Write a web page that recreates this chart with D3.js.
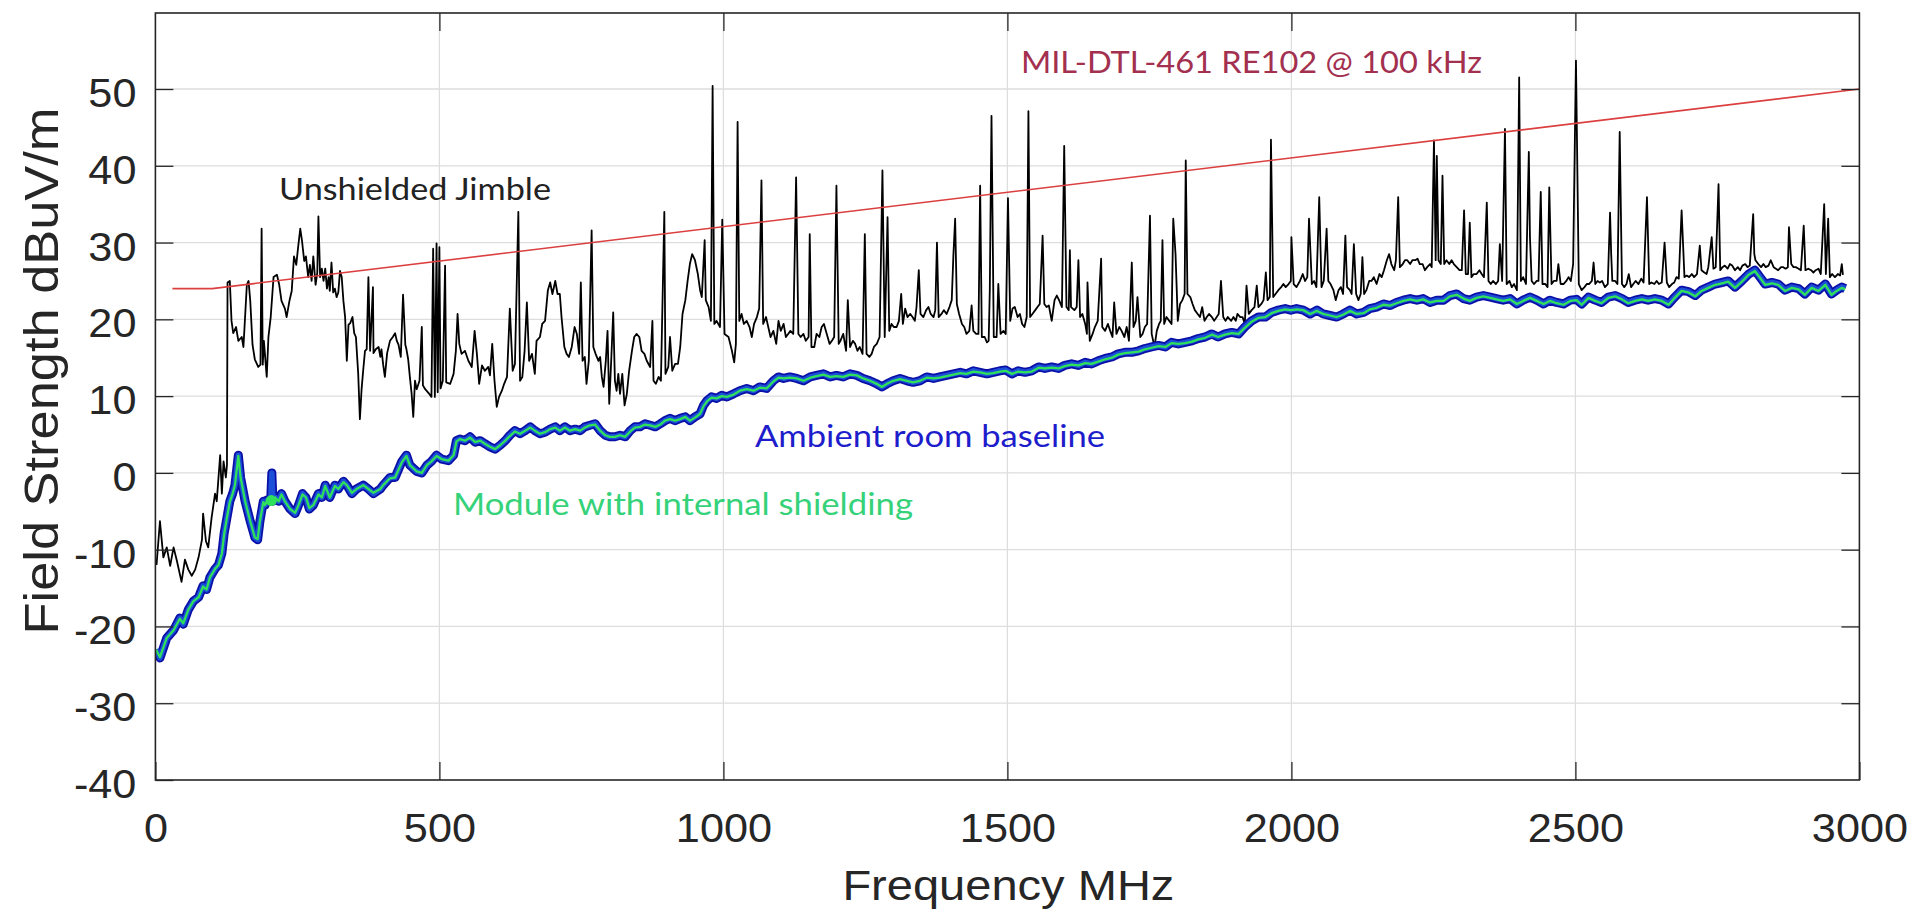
<!DOCTYPE html>
<html><head><meta charset="utf-8">
<script src="https://cdn.jsdelivr.net/npm/d3@7"></script>
<style>body{margin:0;background:#fff;} svg{display:block}</style>
</head><body>
<svg id="chart" width="1912" height="912"></svg>
<script>
// ---------------- data ----------------
const xTicks = [0, 500, 1000, 1500, 2000, 2500, 3000];
const yTicks = [-40, -30, -20, -10, 0, 10, 20, 30, 40, 50];
const xTitle = "Frequency MHz";
const yTitle = "Field Strength dBuV/m";

// MIL-DTL-461 RE102 limit [MHz, dBuV/m]
const limitLine = [[30,24],[100,24],[3000,50]];

// Unshielded Jimble [MHz, dBuV/m]
const unshielded = [
[2,-12],[8,-6.3],[14,-11],[20,-9.7],[26,-12.1],[32,-9.7],[38,-11.5],[46,-14.2],[52,-11.3],[58,-12.6],[64,-13.4],[70,-12.6],[76,-11],[82,-8.7],[84,-5.3],[89,-8.9],[93,-9.7],[99,-5.8],[105,-2.7],[108,-3.7],[114,2.3],[117,-2.7],[120,1.5],[124,-0.6],[126,1],[127,24.8],[131,25],[134,19.8],[137,18.2],[142,19],[146,17.2],[152,17.7],[155,16.4],[161,24.5],[164,25],[167,22.4],[171,16.7],[175,14.8],[181,13.8],[185,14.1],[187,31.8],[189,14.1],[191,17.2],[196,12.5],[199,17.7],[203,20.3],[208,25.5],[214,25.8],[218,24.5],[222,22.4],[228,21.4],[231,20.3],[236,22.4],[240,23.7],[244,28.2],[248,27.1],[251,29.2],[255,31.8],[258,30.3],[262,27.6],[265,28.2],[269,25.5],[272,27.1],[275,25],[278,28.2],[282,24.5],[285,26.1],[287,33.4],[290,25.5],[293,26.6],[296,25],[299,26.6],[302,24],[305,25.5],[307,23.7],[310,27.4],[313,23.5],[316,24],[319,22.9],[322,23.5],[325,26.3],[328,25.5],[331,22.4],[334,20.3],[337,14.6],[340,19.3],[343,19.5],[347,20.3],[350,18.2],[353,17.7],[357,13],[360,7],[363,10.9],[366,13.5],[369,15.9],[372,16.1],[375,25.5],[378,15.9],[383,24.2],[384,15.6],[388,16.1],[393,16.4],[396,15.1],[398,16.1],[401,14.1],[404,12.5],[408,15.6],[413,17.2],[418,17.7],[422,18.2],[425,17.2],[428,16.7],[432,15.1],[436,23.2],[440,16.7],[442,16.1],[445,14.8],[448,12.5],[451,10.4],[454,7.3],[457,12],[460,10.9],[465,12],[469,19],[471,11.4],[475,10.9],[481,10.4],[486,9.9],[489,29.2],[492,9.9],[495,29.9],[497,10.5],[500,29.4],[502,11],[506,12],[510,27],[512,11.8],[519,11.6],[525,12.9],[529,15.9],[532,20.7],[535,16.8],[539,15.5],[545,15.9],[551,14.6],[557,13.8],[562,18.5],[566,15.5],[570,11.6],[575,14],[580,13.3],[586,13.8],[589,12.7],[593,16.8],[597,12],[601,8.6],[605,9.9],[610,10.7],[614,11.6],[619,12.5],[624,21.4],[629,13.3],[633,14.2],[639,34],[642,12],[646,12.5],[650,15.9],[654,22.2],[658,14.6],[663,15.5],[668,12.9],[671,17.2],[677,17.7],[681,19.4],[686,19.8],[691,23.8],[695,24.8],[699,23.3],[704,25],[708,23.3],[712,23.3],[715,20.3],[720,16.4],[724,15.5],[728,15.1],[733,16.4],[738,19],[742,18.1],[746,15.5],[749,24.8],[752,14.6],[756,15.1],[759,11.6],[763,14.6],[768,31.6],[771,16.4],[775,15.5],[780,14.6],[783,15.1],[786,12.5],[789,11.2],[793,14.6],[796,18.5],[799,9],[802,13.8],[806,20.9],[809,12],[812,10.7],[815,12.9],[818,10.3],[822,12.9],[826,8.8],[830,10.3],[834,13.3],[839,15.9],[843,17.7],[847,18.1],[852,17.7],[856,15.9],[861,15.5],[865,14.6],[871,13.8],[875,19.8],[877,12],[881,11.6],[886,12.5],[890,12],[896,34],[898,12.9],[903,13.8],[906,17.7],[910,13.3],[915,14.2],[920,14.2],[924,16.4],[928,20.7],[933,22.5],[937,25],[941,27.2],[945,28.5],[950,27.7],[955,25.9],[959,23.8],[962,22.9],[967,30.3],[969,22.5],[974,21.6],[978,19.8],[981,50.4],[984,19.4],[988,19.8],[994,19],[998,33],[1002,18.1],
[1009,17.7],[1015,15.9],[1019,14.4],[1022,16.8],[1025,45.7],[1028,19.8],[1032,20.7],[1036,19.4],[1041,19.8],[1046,19],[1050,17.7],[1054,19.4],[1059,20.3],[1063,21.4],[1067,38.1],[1070,19.4],[1075,20.3],[1079,19],[1083,17.7],[1088,18.5],[1093,16.8],[1097,19.8],[1101,18.5],[1106,19.4],[1110,17.7],[1114,18.1],[1118,18.5],[1123,18.1],[1126,30.3],[1128,38.5],[1132,18.1],[1136,17.7],[1141,18.1],[1145,17.2],[1150,17.7],[1152,31.1],[1155,16.4],[1160,16.4],[1164,18.1],[1169,17.7],[1173,19],[1177,19.4],[1182,18.1],[1187,16.8],[1191,17.2],[1195,17.7],[1199,37.4],[1203,16.8],[1206,17.2],[1211,18.1],[1216,15.9],[1219,22.5],[1223,16.4],[1228,17.2],[1232,16.8],[1236,15.9],[1240,16.4],[1245,15.5],[1249,31.1],[1252,15.5],[1257,15.1],[1261,15.5],[1265,16.4],[1270,16.8],[1275,17.7],[1280,39.4],[1284,17.7],[1289,33.3],[1292,18.5],[1296,19.4],[1300,19],[1305,19],[1309,19.8],[1313,23.3],[1316,19.4],[1320,21.4],[1324,20.3],[1329,20.7],[1333,20.3],[1337,19.8],[1340,21.6],[1344,26.4],[1347,20.7],[1352,20.3],[1357,21.2],[1361,21.6],[1365,20.7],[1370,20.3],[1373,21.2],[1376,30],[1379,20.3],[1384,20.7],[1388,21.2],[1393,20.7],[1398,21.6],[1402,22.5],[1405,28.5],[1408,33.1],[1411,22],[1415,20.7],[1420,19.4],[1424,19],[1428,18.1],[1433,18.5],[1437,21.8],[1440,18.5],[1445,18.1],[1449,18.1],[1452,37.4],[1455,17.7],[1460,17.7],[1464,17],[1467,17.2],[1469,23.8],[1472,46.5],[1476,17.7],[1481,17.7],[1484,24.6],[1488,18.1],[1493,18.5],[1497,18.1],[1501,35.8],[1505,19.8],
[1509,21.4],[1513,21.6],[1518,20.3],[1522,20.7],[1526,19.4],[1530,19],[1534,20.3],[1537,47.1],[1540,20.3],[1544,20.7],[1549,21.2],[1553,21.6],[1557,22],[1562,30.9],[1565,22],[1569,21.6],[1573,21.8],[1578,19.8],[1583,22.5],[1587,23.1],[1591,22.5],[1596,21.6],[1600,42.6],[1604,21.6],[1608,21.2],[1610,29],[1612,21.6],[1618,21.2],[1622,21.6],[1625,27.7],[1628,20.3],[1632,20.7],[1637,19.4],[1640,18.1],[1641,24.8],[1645,17.2],[1650,18.1],[1654,19],[1659,19.8],[1665,27.9],[1667,19],[1672,18.5],[1677,19.4],[1681,18.5],[1685,17.7],[1688,22.2],[1692,18.1],[1697,19],[1701,18.5],[1706,17.7],[1710,19],[1714,17.2],[1719,27.4],[1722,19],[1726,19.8],[1729,22.9],[1734,17.7],[1738,18.1],[1742,19],[1746,19.4],[1751,33.5],[1754,18.1],[1759,16.4],[1763,18.5],[1767,19.4],[1770,19.8],[1773,30.3],[1776,19.4],[1780,20.3],[1785,19.8],[1789,19.4],[1792,33.1],[1796,28.5],[1800,19.8],[1804,22],[1808,22.5],[1812,23.3],[1814,40.7],[1817,23.3],[1822,22.9],[1826,22],[1830,21.2],[1835,20.7],[1839,20.3],[1843,21.6],[1847,19.8],[1851,20.3],[1855,20.7],[1860,20.3],[1864,19.8],[1872,20.7],[1876,25],[1880,20.3],[1884,19.8],[1888,20.3],[1894,19.8],[1898,20.3],[1902,19.8],[1905,20.7],[1910,20.3],[1914,20.3],[1918,19.4],[1921,24.4],[1925,20.7],[1930,21.2],[1935,21.6],[1939,24.4],[1942,21.6],[1947,22],[1951,22.5],[1955,26.1],[1958,22.5],[1962,22.9],[1964,43.4],[1968,22.9],[1972,23.3],[1977,23.8],[1982,24.2],[1986,24.6],[1990,24.2],[1995,24.6],[1999,25],[2000,30.7],[2004,24.6],
[2009,24.2],[2015,25],[2020,25.9],[2024,25],[2028,25.5],[2031,33.1],[2036,24.6],[2040,25],[2044,24.2],[2049,35.9],[2053,24.2],[2057,25],[2062,31.8],[2065,25],[2069,24.6],[2074,23.8],[2078,22.5],[2083,23.8],[2087,24.2],[2091,23.3],[2095,30.9],[2098,24.2],[2103,23.8],[2106,23.3],[2110,29.8],[2114,23.3],[2118,22.5],[2122,23.3],[2125,28.1],[2128,23.3],[2132,23.8],[2137,25],[2141,25],[2145,25.5],[2150,24.6],[2155,25.9],[2159,25.5],[2163,26.4],[2168,27.7],[2172,28.5],[2176,27.2],[2181,26.4],[2184,27.7],[2188,35.9],[2191,26.8],[2196,27.2],[2200,27.7],[2204,27.7],[2209,27.2],[2213,27.7],[2218,27.7],[2222,27.9],[2226,27.2],[2231,27.2],[2235,26.4],[2239,26.8],[2244,27.2],[2247,26.8],[2251,43.3],[2254,27.7],[2256,41.3],[2259,27.7],[2263,27.2],[2266,38.7],[2269,27.2],[2273,27.7],[2278,27.2],[2282,27.7],[2286,27.2],[2291,26.8],[2296,26.4],[2300,26.4],[2304,34.2],[2307,25.9],[2311,25.9],[2314,32.6],[2317,25.5],[2321,25.9],[2326,25.9],[2331,26.4],[2335,25.9],[2339,25.5],[2344,35.2],[2347,25],[2351,24.6],[2355,25],[2360,24.6],[2364,25],[2367,29.8],[2371,25],[2376,44.8],[2379,24.6],[2384,25],[2388,24.2],[2392,24.6],[2397,23.8],[2401,51.5],[2404,25],[2408,25.5],[2413,24.6],[2418,41.8],[2420,30.7],[2423,25],[2427,24.6],[2432,25],[2435,25],[2439,36.6],[2442,24.6],[2447,24.6],[2451,24.2],[2454,37.2],[2458,24.6],[2462,25],[2467,25],[2470,27.2],[2474,24.6],[2479,24.6],[2484,25],[2488,25.5],[2492,25],[2496,27.2],[2501,53.7],[2506,24.6],
[2511,23.8],[2516,24.2],[2520,24.6],[2524,24.6],[2529,25],[2532,27.4],[2535,24.6],[2539,25],[2543,24.8],[2547,25],[2552,24.2],[2557,24.6],[2561,33.9],[2563,28.5],[2565,25],[2570,25],[2574,24.6],[2578,44.4],[2582,24.6],[2586,24.2],[2590,24.6],[2594,25.9],[2598,24.2],[2602,24.6],[2606,25],[2611,24.6],[2616,25.3],[2620,24.8],[2626,35.9],[2630,24.6],[2634,24.8],[2639,24.6],[2643,25],[2647,24.6],[2652,24.8],[2657,30],[2661,24.8],[2665,24.2],[2670,24.6],[2674,24.8],[2678,25.5],[2682,25.3],[2687,34.2],[2692,25.5],[2696,25.7],[2700,25.5],[2705,25.9],[2709,25.5],[2714,25.9],[2719,29.6],[2722,26.4],[2727,26.1],[2731,25.9],[2734,26.8],[2740,30.7],[2743,26.6],[2747,26.8],[2752,37.6],[2755,26.4],[2759,26.8],[2763,27],[2768,26.6],[2772,27.2],[2776,27],[2781,26.4],[2786,26.8],[2790,26.4],[2794,27],[2799,27.2],[2803,26.8],[2807,27],[2813,33.7],[2815,28.5],[2817,27.7],[2822,27.2],[2827,26.8],[2831,27.2],[2835,26.8],[2840,27],[2844,27.7],[2849,26.8],[2853,26.6],[2857,26.4],[2862,26.8],[2866,26.8],[2870,26.6],[2874,26.8],[2876,32],[2880,27.2],[2884,26.8],[2888,26.8],[2893,26.6],[2897,26.4],[2902,32.2],[2905,26.4],[2910,26.6],[2915,26.4],[2919,26.1],[2923,26.4],[2928,26.6],[2932,25.9],[2938,35],[2941,25.9],[2945,33.1],[2948,25.5],[2952,25.9],[2957,25.5],[2962,25.9],[2966,25.7],[2969,27.2],[2971,25.8]
];

// Ambient room baseline [MHz, dBuV/m]
const ambientRoom = [
[1,-23],[8,-24.1],[20,-21.5],[32,-20.5],[43,-18.9],[49,-19.7],[58,-17.8],[67,-16.7],[76,-16.2],[84,-14.7],[90,-15.2],[96,-13.6],[105,-12.5],[111,-12],[117,-10.5],[121,-7.9],[126,-5.8],[131,-3.7],[136,-2.7],[140,-1.6],[146,2.3],[150,-0.6],[158,-3.7],[167,-6.3],[175,-8.4],[180,-8.7],[184,-6.3],[190,-3.7],[193,-4.2],[197,-3.5],[203,-3.5],[205,0],[207,-3.7],[211,-3.2],[217,-3.7],[222,-2.7],[228,-3.7],[237,-4.7],[246,-5.3],[252,-4.2],[259,-2.7],[265,-3.2],[271,-4.7],[278,-4.2],[287,-2.7],[293,-3.2],[299,-1.6],[307,-3.2],[316,-1.6],[322,-2.1],[331,-1.1],[337,-1.6],[346,-2.7],[354,-2.1],[366,-1.6],[375,-2.1],[384,-2.7],[396,-2.1],[401,-1.6],[413,-0.6],[422,-0.6],[434,1.5],[442,2.3],[448,1],[460,0.2],[469,0],[478,1],[486,1.5],[495,2.3],[504,1.8],[516,1.6],[525,2.3],[530,4.2],[536,4.4],[545,4.2],[554,4.7],[563,4],[572,4.2],[580,3.8],[589,3.4],[598,3.1],[607,3.6],[616,4.2],[624,4.9],[633,5.5],[642,5.1],[651,5.5],[660,6],[668,5.5],[677,5.1],[686,5.3],[695,5.7],[704,6],[712,5.5],[721,6],[730,5.5],[739,5.7],[748,5.5],[756,6],[765,6.2],[774,6.4],[783,5.5],[792,4.9],[800,4.7],[809,4.7],[818,4.9],[827,4.7],[836,5.5],[844,6],[853,6],[862,6.4],[871,6.2],[880,6],[889,6.4],[897,6.8],[906,7.1],[915,6.8],[924,7.1],[933,7.3],[941,6.8],[950,7.3],[959,7.7],[965,8.8],[971,9.4],[979,9.9],[988,9.7],[997,10.1],[1006,9.9],[1018,10.3],[1029,10.7],[1041,11],[1053,10.7],[1064,11.2],[1076,11],[1088,12],[1097,12.5],[1106,12.3],[1117,12.5],[1129,12.3],[1141,12],[1153,12.5],[1164,12.7],[1176,12.9],[1188,12.5],[1199,12.7],[1211,12.5],[1223,12.9],[1235,12.7],[1246,12.3],[1258,12],[1270,11.6],[1279,11.2],[1288,11.6],[1299,12],[1311,12.3],[1323,12],[1334,11.8],[1346,12],[1358,12.5],[1370,12.3],[1381,12.5],[1393,12.7],[1405,12.9],[1417,13.1],[1428,12.9],[1440,13.3],[1452,13.1],[1464,12.9],[1475,13.1],[1487,13.3],[1497,13.4],[1508,12.9],[1519,13.3],[1531,13.1],[1543,13.3],[1555,13.8],[1566,13.6],[1578,13.8],[1590,13.6],[1601,14],[1613,14.2],[1625,14],[1637,14.4],[1648,14.2],[1660,14.6],[1672,14.9],[1684,15.1],[1695,15.5],[1707,15.7],[1719,15.7],[1731,15.9],[1742,16.2],[1754,16.4],[1766,16.6],[1778,16.4],[1789,17],[1801,16.8],[1813,17],[1825,17.2],[1836,17.5],[1848,17.7],[1860,18.1],[1871,17.7],[1883,18.1],[1895,18.3],[1907,18.1],[1918,19],[1930,19.8],[1942,20.3],[1954,20.3],[1965,20.9],[1977,21.2],[1989,21.4],[1999,21.2],[2009,21.4],[2021,21.2],[2033,20.7],[2045,21.2],[2056,20.7],[2068,20.5],[2080,20.3],[2091,20.7],[2103,21.2],[2115,20.7],[2127,20.9],[2138,21.4],[2150,21.6],[2162,22],[2174,21.8],[2185,22.2],[2197,22.5],[2209,22.7],[2221,22.5],[2232,22.7],[2244,22.2],[2256,22.5],[2268,22.5],[2279,23.1],[2291,23.3],[2303,22.7],[2314,22.5],[2326,22.9],[2338,23.1],[2350,22.9],[2361,22.7],[2373,22.5],[2385,22.7],[2397,22],[2408,22.5],[2420,22.9],[2432,22.5],[2444,22],[2455,22.5],[2467,22.2],[2479,22],[2491,22.5],[2502,22.6],[2511,22],[2523,22.9],[2535,22.5],[2546,22.2],[2558,22.9],[2570,23.1],[2582,22.7],[2593,22.2],[2605,22.5],[2617,22.7],[2628,22.5],[2640,22.7],[2652,22.5],[2664,22],[2675,22.9],[2687,23.8],[2699,23.6],[2711,23.1],[2722,23.8],[2734,24.2],[2746,24.6],[2758,24.8],[2769,25],[2781,24.2],[2793,25],[2805,25.9],[2816,26.4],[2825,25.5],[2834,24.6],[2846,24.8],[2857,24.6],[2869,23.8],[2881,24.2],[2893,24],[2904,23.3],[2916,24.2],[2928,23.8],[2940,24.6],[2951,23.3],[2960,23.8],[2969,24.2],[2975,24]
];

// Module with internal shielding [MHz, dBuV/m]
const moduleShielded = [
[1,-23],[8,-24],[20,-21.5],[32,-20.5],[43,-19],[49,-19.6],[58,-17.8],[67,-16.7],[76,-16.2],[84,-14.8],[90,-15.2],[96,-13.6],[105,-12.5],[111,-12],[117,-10.5],[121,-8],[126,-5.8],[131,-3.8],[136,-2.7],[140,-1.6],[146,2.2],[150,-0.6],[158,-3.7],[167,-6.3],[175,-8.4],[180,-8.6],[184,-6.3],[190,-3.8],[193,-4.2],[197,-3.5],[203,-3.6],[207,-3.7],[211,-3.2],[217,-3.7],[222,-2.8],[228,-3.7],[237,-4.7],[246,-5.2],[252,-4.2],[259,-2.8],[265,-3.2],[271,-4.6],[278,-4.2],[287,-2.8],[293,-3.2],[299,-1.7],[307,-3.2],[316,-1.7],[322,-2.1],[331,-1.2],[337,-1.6],[346,-2.6],[354,-2.1],[366,-1.6],[375,-2.1],[384,-2.6],[396,-2.1],[401,-1.6],[413,-0.7],[422,-0.6],[434,1.4],[442,2.2],[448,1],[460,0.2],[469,0],[478,1],[486,1.5],[495,2.2],[504,1.8],[516,1.6],[525,2.3],[530,4.1],[536,4.4],[545,4.2],[554,4.6],[563,4],[572,4.2],[580,3.8],[589,3.4],[598,3.1],[607,3.6],[616,4.2],[624,4.8],[633,5.4],[642,5.1],[651,5.5],[660,5.9],[668,5.5],[677,5.1],[686,5.3],[695,5.7],[704,5.9],[712,5.5],[721,5.9],[730,5.5],[739,5.7],[748,5.5],[756,5.9],[765,6.2],[774,6.3],[783,5.5],[792,4.9],[800,4.7],[809,4.7],[818,4.9],[827,4.7],[836,5.4],[844,5.9],[853,6],[862,6.3],[871,6.2],[880,6],[889,6.3],[897,6.8],[906,7],[915,6.8],[924,7],[933,7.3],[941,6.8],[950,7.2],[959,7.7],[965,8.7],[971,9.3],[979,9.8],[988,9.7],[997,10],[1006,9.9],[1018,10.2],[1029,10.7],[1041,10.9],[1053,10.7],[1064,11.1],[1076,11],[1088,11.9],[1097,12.4],[1106,12.3],[1117,12.4],[1129,12.3],[1141,12],[1153,12.4],[1164,12.6],[1176,12.8],[1188,12.5],[1199,12.6],[1211,12.5],[1223,12.8],[1235,12.7],[1246,12.3],[1258,12],[1270,11.6],[1279,11.2],[1288,11.6],[1299,12],[1311,12.2],[1323,12],[1334,11.8],[1346,12],[1358,12.4],[1370,12.3],[1381,12.4],[1393,12.6],[1405,12.8],[1417,13],[1428,12.9],[1440,13.2],[1452,13.1],[1464,12.9],[1475,13],[1487,13.2],[1497,13.3],[1508,12.9],[1519,13.2],[1531,13.1],[1543,13.2],[1555,13.7],[1566,13.6],[1578,13.7],[1590,13.6],[1601,13.9],[1613,14.1],[1625,14],[1637,14.3],[1648,14.2],[1660,14.5],[1672,14.8],[1684,15],[1695,15.4],[1707,15.6],[1719,15.7],[1731,15.8],[1742,16.1],[1754,16.3],[1766,16.5],[1778,16.4],[1789,16.9],[1801,16.8],[1813,16.9],[1825,17.1],[1836,17.4],[1848,17.6],[1860,18],[1871,17.7],[1883,18],[1895,18.2],[1907,18.1],[1918,18.9],[1930,19.7],[1942,20.2],[1954,20.3],[1965,20.8],[1977,21.1],[1989,21.3],[1999,21.2],[2009,21.3],[2021,21.2],[2033,20.7],[2045,21.1],[2056,20.7],[2068,20.5],[2080,20.3],[2091,20.6],[2103,21.1],[2115,20.7],[2127,20.8],[2138,21.3],[2150,21.5],[2162,21.9],[2174,21.8],[2185,22.1],[2197,22.4],[2209,22.6],[2221,22.4],[2232,22.6],[2244,22.2],[2256,22.4],[2268,22.4],[2279,23],[2291,23.2],[2303,22.7],[2314,22.4],[2326,22.8],[2338,23],[2350,22.8],[2361,22.6],[2373,22.4],[2385,22.6],[2397,22],[2408,22.4],[2420,22.8],[2432,22.4],[2444,22],[2455,22.4],[2467,22.1],[2479,21.9],[2491,22.4],[2502,22.5],[2511,21.9],[2523,22.8],[2535,22.4],[2546,22.1],[2558,22.8],[2570,23],[2582,22.6],[2593,22.1],[2605,22.4],[2617,22.6],[2628,22.4],[2640,22.6],[2652,22.4],[2664,21.9],[2675,22.8],[2687,23.7],[2699,23.5],[2711,23],[2722,23.7],[2734,24.1],[2746,24.5],[2758,24.7],[2769,24.9],[2781,24.1],[2793,24.9],[2805,25.8],[2816,26.3],[2825,25.4],[2834,24.5],[2846,24.7],[2857,24.5],[2869,23.7],[2881,24.1],[2893,23.9],[2904,23.2],[2916,24.1],[2928,23.7],[2940,24.5],[2951,23.2],[2960,23.7],[2969,24.1],[2975,23.9]
];
const moduleMarker = [[204,-3.6]];

const labels = ["MIL-DTL-461 RE102 @ 100 kHz", "Unshielded Jimble", "Ambient room baseline", "Module with internal shielding"];

// ---------------- drawing ----------------
const svg = d3.select("#chart");
const X0 = 155.4, X1 = 1859.4, Y0 = 780, Y1 = 13;
const x = d3.scaleLinear().domain([0, 3000]).range([X0, X1]);
const y = d3.scaleLinear().domain([-40, 59.9]).range([Y0, Y1]);
const axisColor = "#262626";
const tickFont = "'Liberation Sans', Arial, Helvetica, sans-serif";
const noteFont = "Lato, 'Open Sans', sans-serif";
const fmt = d => String(d);

svg.append("rect").attr("width", 1912).attr("height", 912).attr("fill", "#fff");

// grid
const grid = svg.append("g").attr("stroke", "#dddddd").attr("stroke-width", 1.3);
grid.selectAll("line.v").data(xTicks.filter(d => d > 0 && d < 3000)).join("line")
  .attr("x1", d => x(d)).attr("x2", d => x(d)).attr("y1", Y1).attr("y2", Y0);
grid.selectAll("line.h").data(yTicks.filter(d => d > -40)).join("line")
  .attr("x1", X0).attr("x2", X1).attr("y1", d => y(d)).attr("y2", d => y(d));

svg.append("clipPath").attr("id", "plotclip").append("rect")
  .attr("x", X0).attr("y", Y1).attr("width", X1 - X0).attr("height", Y0 - Y1);
const plot = svg.append("g").attr("clip-path", "url(#plotclip)");
const line = d3.line().x(d => x(d[0])).y(d => y(d[1]));

plot.append("path").datum(unshielded).attr("d", line)
  .attr("fill", "none").attr("stroke", "#000").attr("stroke-width", 1.8).attr("stroke-linejoin", "round");
plot.append("path").datum(ambientRoom).attr("d", line)
  .attr("fill", "none").attr("stroke", "#0a0fa6").attr("stroke-width", 9).attr("stroke-linejoin", "round");
plot.append("path").datum(ambientRoom).attr("d", line)
  .attr("fill", "none").attr("stroke", "#1c4fd8").attr("stroke-width", 5.5).attr("stroke-linejoin", "round");
plot.append("path").datum(moduleShielded).attr("d", line)
  .attr("fill", "none").attr("stroke", "#2ee05a").attr("stroke-width", 2.3).attr("stroke-linejoin", "round");
plot.selectAll("circle.mk").data(moduleMarker).join("circle")
  .attr("cx", d => x(d[0])).attr("cy", d => y(d[1])).attr("r", 5.5).attr("fill", "#2ee05a");
plot.append("path").datum(limitLine).attr("d", line)
  .attr("fill", "none").attr("stroke", "#dc3f3f").attr("stroke-width", 1.6);

// axes
function styleAxis(g) {
  g.select(".domain").remove();
  g.selectAll(".tick line").attr("stroke", axisColor).attr("stroke-width", 1.3);
  g.selectAll("text").attr("fill", axisColor).attr("font-family", tickFont).attr("font-size", 40);
}
const stretch = (sel, k) => sel.each(function () {
  const len = this.getComputedTextLength();
  d3.select(this).attr("textLength", len * k).attr("lengthAdjust", "spacingAndGlyphs");
});

const gx = svg.append("g").attr("transform", `translate(0,${Y0})`)
  .call(d3.axisBottom(x).tickValues(xTicks).tickSize(-18).tickSizeOuter(0).tickFormat(fmt));
styleAxis(gx);
gx.selectAll("text").attr("y", 62).attr("dy", 0);
stretch(gx.selectAll("text"), 1.08);

const gy = svg.append("g").attr("transform", `translate(${X0},0)`)
  .call(d3.axisLeft(y).tickValues(yTicks).tickSize(-18).tickSizeOuter(0).tickFormat(fmt));
styleAxis(gy);
gy.selectAll("text").attr("x", -19).attr("dy", 17.5);
stretch(gy.selectAll("text"), 1.08);

const gt = svg.append("g").attr("transform", `translate(0,${Y1})`)
  .call(d3.axisTop(x).tickValues(xTicks.filter(d => d > 0 && d < 3000)).tickSize(-18).tickSizeOuter(0).tickFormat(""));
styleAxis(gt);
const gr = svg.append("g").attr("transform", `translate(${X1},0)`)
  .call(d3.axisRight(y).tickValues(yTicks.filter(d => d > -40)).tickSize(-18).tickSizeOuter(0).tickFormat(""));
styleAxis(gr);

svg.append("rect").attr("x", X0).attr("y", Y1).attr("width", X1 - X0).attr("height", Y0 - Y1)
  .attr("fill", "none").attr("stroke", axisColor).attr("stroke-width", 1.6);

// titles
svg.append("text").text(xTitle)
  .attr("x", (X0 + X1) / 2 + 1).attr("y", 900).attr("text-anchor", "middle")
  .attr("font-family", tickFont).attr("font-size", 43).attr("fill", axisColor)
  .attr("textLength", 332).attr("lengthAdjust", "spacingAndGlyphs");
svg.append("text").text(yTitle)
  .attr("transform", "translate(58,371) rotate(-90)").attr("text-anchor", "middle")
  .attr("font-family", tickFont).attr("font-size", 48).attr("fill", axisColor)
  .attr("textLength", 527).attr("lengthAdjust", "spacingAndGlyphs");

// annotations
const notes = [
  { t: labels[0], x: 1021, y: 72.7, w: 461, c: "#a3304f" },
  { t: labels[1], x: 279, y: 200.3, w: 272, c: "#222222" },
  { t: labels[2], x: 755, y: 446.5, w: 350, c: "#1d1dcc" },
  { t: labels[3], x: 453, y: 515, w: 460, c: "#35d27a" }
];
svg.selectAll("text.note").data(notes).join("text").attr("class", "note")
  .text(d => d.t).attr("x", d => d.x).attr("y", d => d.y)
  .attr("font-family", noteFont).attr("font-size", 31).attr("fill", d => d.c)
  .attr("textLength", d => d.w).attr("lengthAdjust", "spacingAndGlyphs");
</script>
</body></html>
